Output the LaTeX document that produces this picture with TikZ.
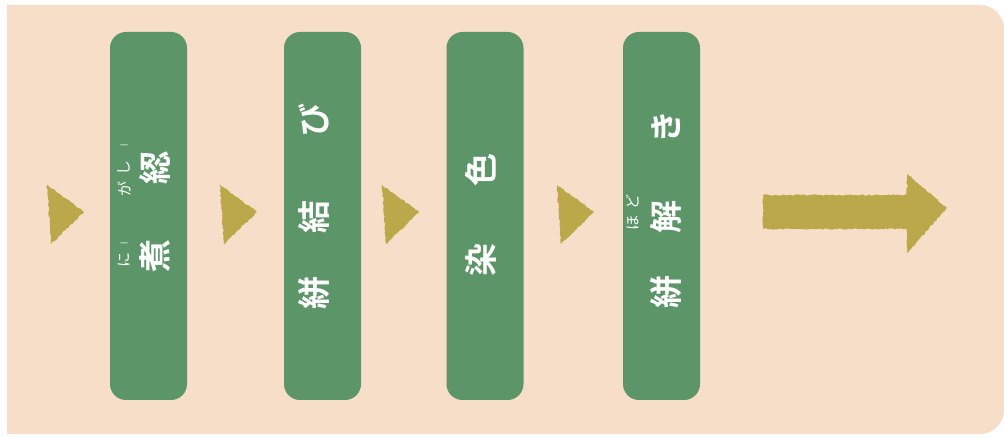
\documentclass[tikz,border=0pt]{standalone}
\usepackage{fontspec}
\newfontfamily\jp{Noto Sans CJK JP}
\newfontfamily\jpb{Noto Sans CJK JP Bold}
\usetikzlibrary{decorations.pathmorphing}
\definecolor{peach}{RGB}{246,222,200}
\definecolor{leaf}{RGB}{92,149,103}
\definecolor{olive}{RGB}{187,168,75}
\tikzset{
  stagebox/.style={fill=leaf, rounded corners=16pt, minimum width=77pt, minimum height=368pt, inner sep=0pt},
  kanji/.style={text=white, font=\jpb\fontsize{33}{33}\selectfont, rotate=90, inner sep=0pt},
  rubytxt/.style={text=white, font=\jp\fontsize{15}{15}\selectfont, rotate=90, inner sep=0pt},
  rubydash/.style={text=white, font=\jp\fontsize{8}{8}\selectfont, inner sep=0pt},
  roughfill/.style={fill=olive, decorate, decoration={random steps, segment length=2pt, amplitude=0.7pt}},
}
\pgfmathsetseed{7}
\begin{document}
\begin{tikzpicture}[x=1pt,y=1pt]
\useasboundingbox (0,0) rectangle (1004,438);
% background
\fill[peach] (7,4) -- (980,4) arc[start angle=-90,end angle=0,radius=24] -- (1004,409) arc[start angle=0,end angle=90,radius=24] -- (7,433) -- cycle;
% boxes
\node[stagebox] (b1) at (148.5,222) {};
\node[stagebox] (b2) at (322.5,222) {};
\node[stagebox] (b3) at (485,222) {};
\node[stagebox] (b4) at (661.5,222) {};
% box 1 text
\node[kanji] (k11) at (155,182) {煮};
\node[kanji] (k12) at (155,270) {綛};
\node[rubytxt] (r11) at (124,178) {に};
\node[rubydash] (r12) at (124,193) {一};
\node[rubytxt] (r13) at (124,249) {が};
\node[rubytxt] (r14) at (124,270) {し};
\node[rubydash] (r15) at (124,291) {一};
% box 2 text
\node[kanji] (k21) at (314,145) {絣};
\node[kanji] (k22) at (314,221) {結};
\node[kanji] (k23) at (314,318) {び};
% box 3 text
\node[kanji] (k31) at (481,178) {染};
\node[kanji] (k32) at (481,268) {色};
% box 4 text
\node[kanji] (k41) at (666,146) {絣};
\node[kanji] (k42) at (666,221) {解};
\node[kanji] (k43) at (666,311) {き};
\node[rubytxt] (r41) at (633,215) {ほ};
\node[rubytxt] (r42) at (633,236) {ど};
% triangles
\foreach \dx/\nm in {0/t1, 173/t2, 335/t3, 510/t4}{
  \coordinate (\nm) at (\dx,0);
  \fill[roughfill] ([shift={(47,253)}]\nm) -- ([shift={(84,226)}]\nm) -- ([shift={(51,194)}]\nm) -- cycle;
}
% big arrow
\coordinate (ga) at (763,243);
\fill[roughfill] (ga) -- (907,243) -- (907,264) -- (947,230) -- (907,185) -- (907,209) -- (763,209) -- cycle;
\end{tikzpicture}
\end{document}
